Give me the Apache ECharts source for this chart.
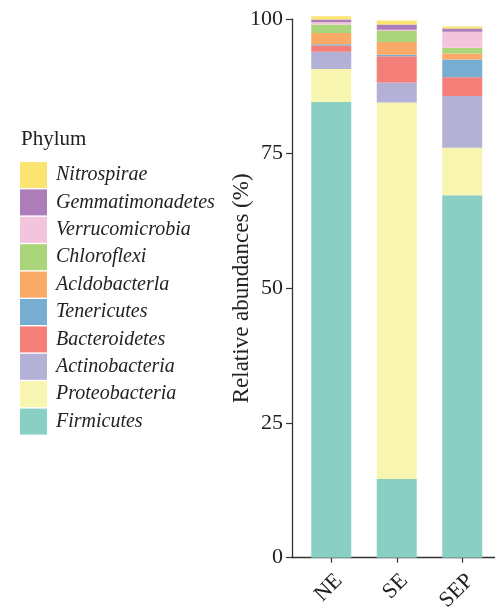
<!DOCTYPE html>
<html>
<head>
<meta charset="utf-8">
<script src="https://cdn.jsdelivr.net/npm/echarts@6/dist/echarts.min.js"></script>
<style>
  html, body { margin: 0; padding: 0; background: #fff; }
  #chart { width: 495px; height: 608px; }
</style>
</head>
<body>
<div id="chart"></div>
<script>
// Sample groups along the x axis
const sites = ['NE', 'SE', 'SEP'];

// Phyla, bottom of the stack first
const phyla = ['Firmicutes', 'Proteobacteria', 'Actinobacteria', 'Bacteroidetes',
  'Tenericutes', 'Acldobacterla', 'Chloroflexi', 'Verrucomicrobia',
  'Gemmatimonadetes', 'Nitrospirae'];

// Relative abundance (%) of each phylum at NE, SE, SEP
const firmicutes       = [84.6, 14.6, 67.3];
const proteobacteria   = [6.1, 69.9, 8.8];
const actinobacteria   = [3.2, 3.7, 9.6];
const bacteroidetes    = [1.2, 4.9, 3.5];
const tenericutes      = [0.2, 0.25, 3.3];
const acldobacterla    = [2.1, 2.4, 1.1];
const chloroflexi      = [1.6, 2.0, 1.05];
const verrucomicrobia  = [0.4, 0.25, 3.0];
const gemmatimonadetes = [0.5, 1.0, 0.6];
const nitrospirae      = [0.6, 0.74, 0.37];

const yTicks = [0, 25, 50, 75, 100];

const valuesByPhylum = {
  Firmicutes: firmicutes,
  Proteobacteria: proteobacteria,
  Actinobacteria: actinobacteria,
  Bacteroidetes: bacteroidetes,
  Tenericutes: tenericutes,
  Acldobacterla: acldobacterla,
  Chloroflexi: chloroflexi,
  Verrucomicrobia: verrucomicrobia,
  Gemmatimonadetes: gemmatimonadetes,
  Nitrospirae: nitrospirae
};

const palette = {
  Firmicutes: '#8ACFC3',
  Proteobacteria: '#F8F5B0',
  Actinobacteria: '#B3B1D5',
  Bacteroidetes: '#F47F78',
  Tenericutes: '#76ADD0',
  Acldobacterla: '#F8AA66',
  Chloroflexi: '#ABD57A',
  Verrucomicrobia: '#F4C4DC',
  Gemmatimonadetes: '#AC7DB8',
  Nitrospirae: '#FBE472'
};

const serif = '"Liberation Serif", "DejaVu Serif", serif';
const axisColor = '#333';

// Plot area: the bar bands, plus a slightly wider frame whose left edge carries the axes
const plotTop = 19;
const plotBottom = 50.3;
const frameLeft = 292;
const bandsLeft = 298.5;

const series = phyla.map(name => ({
  name: name,
  type: 'bar',
  stack: 'total',
  xAxisIndex: 0,
  yAxisIndex: 0,
  barWidth: 40,
  clip: false,
  itemStyle: { color: palette[name] },
  emphasis: { disabled: true },
  data: valuesByPhylum[name]
}));

const chart = echarts.init(document.getElementById('chart'), null, { renderer: 'canvas' });
chart.setOption({
  animation: false,
  backgroundColor: '#fff',
  title: {
    text: 'Phylum',
    left: 16,
    top: 124,
    textStyle: { fontFamily: serif, fontSize: 21, fontWeight: 'normal', color: '#222' }
  },
  legend: {
    orient: 'vertical',
    left: 15,
    top: 157,
    itemWidth: 27,
    itemHeight: 26,
    itemGap: 1.4,
    icon: 'rect',
    selectedMode: false,
    data: phyla.slice().reverse(),
    textStyle: { fontFamily: serif, fontSize: 20, fontStyle: 'italic', color: '#222', padding: [0, 0, 0, 4] }
  },
  grid: [
    { left: bandsLeft, right: 0, top: plotTop, bottom: plotBottom, containLabel: false, outerBoundsMode: 'none' },
    { left: frameLeft, right: 0, top: plotTop, bottom: plotBottom, containLabel: false, outerBoundsMode: 'none' }
  ],
  xAxis: [
    {
      type: 'category',
      gridIndex: 0,
      data: sites,
      axisLine: { show: false },
      axisTick: { show: true, alignWithLabel: true, length: 5, lineStyle: { color: axisColor, width: 1.2 } },
      axisLabel: {
        rotate: 45,
        margin: 12,
        verticalAlign: 'top',
        fontFamily: serif,
        fontSize: 22,
        color: '#222'
      }
    },
    {
      // full-width baseline of the plot frame
      type: 'value',
      gridIndex: 1,
      min: 0,
      max: 1,
      splitLine: { show: false },
      axisTick: { show: false },
      axisLabel: { show: false },
      axisLine: { show: true, onZero: false, lineStyle: { color: axisColor, width: 1.3 } }
    }
  ],
  yAxis: [
    {
      type: 'value',
      gridIndex: 0,
      min: 0,
      max: 100,
      interval: 25,
      offset: bandsLeft - frameLeft,
      name: 'Relative abundances (%)',
      nameLocation: 'middle',
      nameRotate: 90,
      nameGap: 39,
      nameMoveOverlap: false,
      nameTextStyle: { fontFamily: serif, fontSize: 23, color: '#222' },
      splitLine: { show: false },
      axisLine: { show: true, lineStyle: { color: axisColor, width: 1.3 } },
      axisTick: { show: true, length: 6, lineStyle: { color: axisColor, width: 1.2 } },
      axisLabel: {
        margin: 9,
        fontFamily: serif,
        fontSize: 22,
        color: '#222',
        formatter: v => (yTicks.indexOf(v) >= 0 ? String(v) : '')
      }
    },
    {
      type: 'value',
      gridIndex: 1,
      show: false
    }
  ],
  series: series
});
</script>
</body>
</html>
